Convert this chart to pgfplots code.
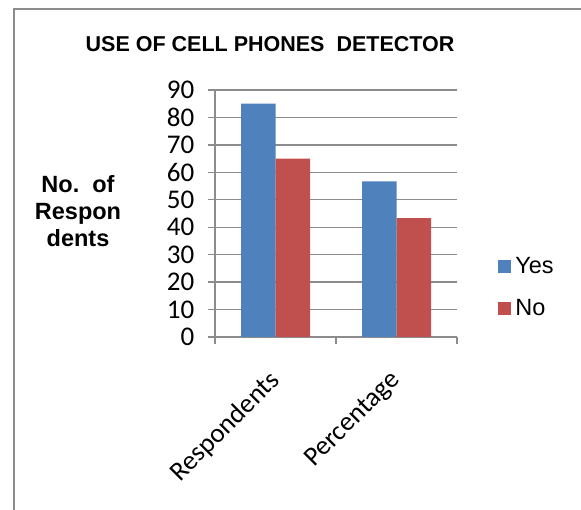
\documentclass[border=0pt]{standalone}
\usepackage{fontspec}
\setmainfont{Liberation Sans}
\newfontfamily\calibri{Carlito}
\usepackage{pgfplots}
\pgfplotsset{compat=1.18}
\definecolor{yesblue}{HTML}{4F81BD}
\definecolor{nored}{HTML}{C0504D}
\definecolor{gridgray}{HTML}{8C8C8C}
\begin{document}
\begin{tikzpicture}
\begin{axis}[
  at={(215pt,173pt)}, anchor=south west,
  scale only axis,
  width=242pt, height=247pt,
  ybar=0pt, bar width=34.5pt,
  xmin=-0.5, xmax=1.5, ymin=0, ymax=90,
  enlarge x limits=false, enlarge y limits=false,
  axis lines*=left,
  axis line style={gridgray, line width=1.3pt},
  tick style={gridgray, line width=1.3pt},
  tick align=outside, major tick length=7.5pt,
  ymajorgrids, grid style={gridgray, line width=1.3pt},
  ytick={0,10,...,90},
  xtick={-0.5,0.5,1.5}, xticklabels={},
  extra x ticks={0,1},
  extra x tick labels={Respondents,Percentage},
  % shifts are in the rotated frame
  extra x tick style={tick style={draw=none},
    xticklabel style={font=\calibri\fontsize{27}{27}\selectfont,
      rotate=45, anchor=north east, inner sep=0pt, xshift=-22.6pt, yshift=-11.3pt}},
  /pgf/number format/assume math mode=true,
  yticklabel style={font=\calibri\fontsize{27}{27}\selectfont, anchor=east, inner sep=0pt, xshift=-13pt},
  legend style={at={(1.17,0.2)}, anchor=west, draw=none, fill=none,
    font=\fontsize{23.5}{23.5}\selectfont, inner sep=0pt,
    nodes={inner sep=0pt, text height=17pt, text depth=4pt},
    row sep=21pt, column sep=4.5pt},
  legend cell align=left,
  legend image code/.code={\fill[#1] (0pt,-6pt) rectangle (12.5pt,6.5pt);},
]
\addplot[fill=yesblue, draw=none] coordinates {(0,85) (1,56.67)};
\addplot[fill=nored, draw=none] coordinates {(0,65) (1,43.33)};
\legend{Yes,No}
\end{axis}
\node[font=\bfseries\fontsize{21.5}{21.5}\selectfont, anchor=base] at (270pt,458pt) {USE OF CELL PHONES\ \ DETECTOR};
\node[font=\bfseries\fontsize{23.5}{27}\selectfont, align=center] at (78pt,299pt) {No.\ \ of\\Respon\\dents};
\draw[line width=2pt, color=black!45] (14pt,-10pt) -- (14pt,501pt) -- (600pt,501pt);
\pgfresetboundingbox
\useasboundingbox (0pt,0pt) rectangle (581pt,510pt);
\end{tikzpicture}
\end{document}
